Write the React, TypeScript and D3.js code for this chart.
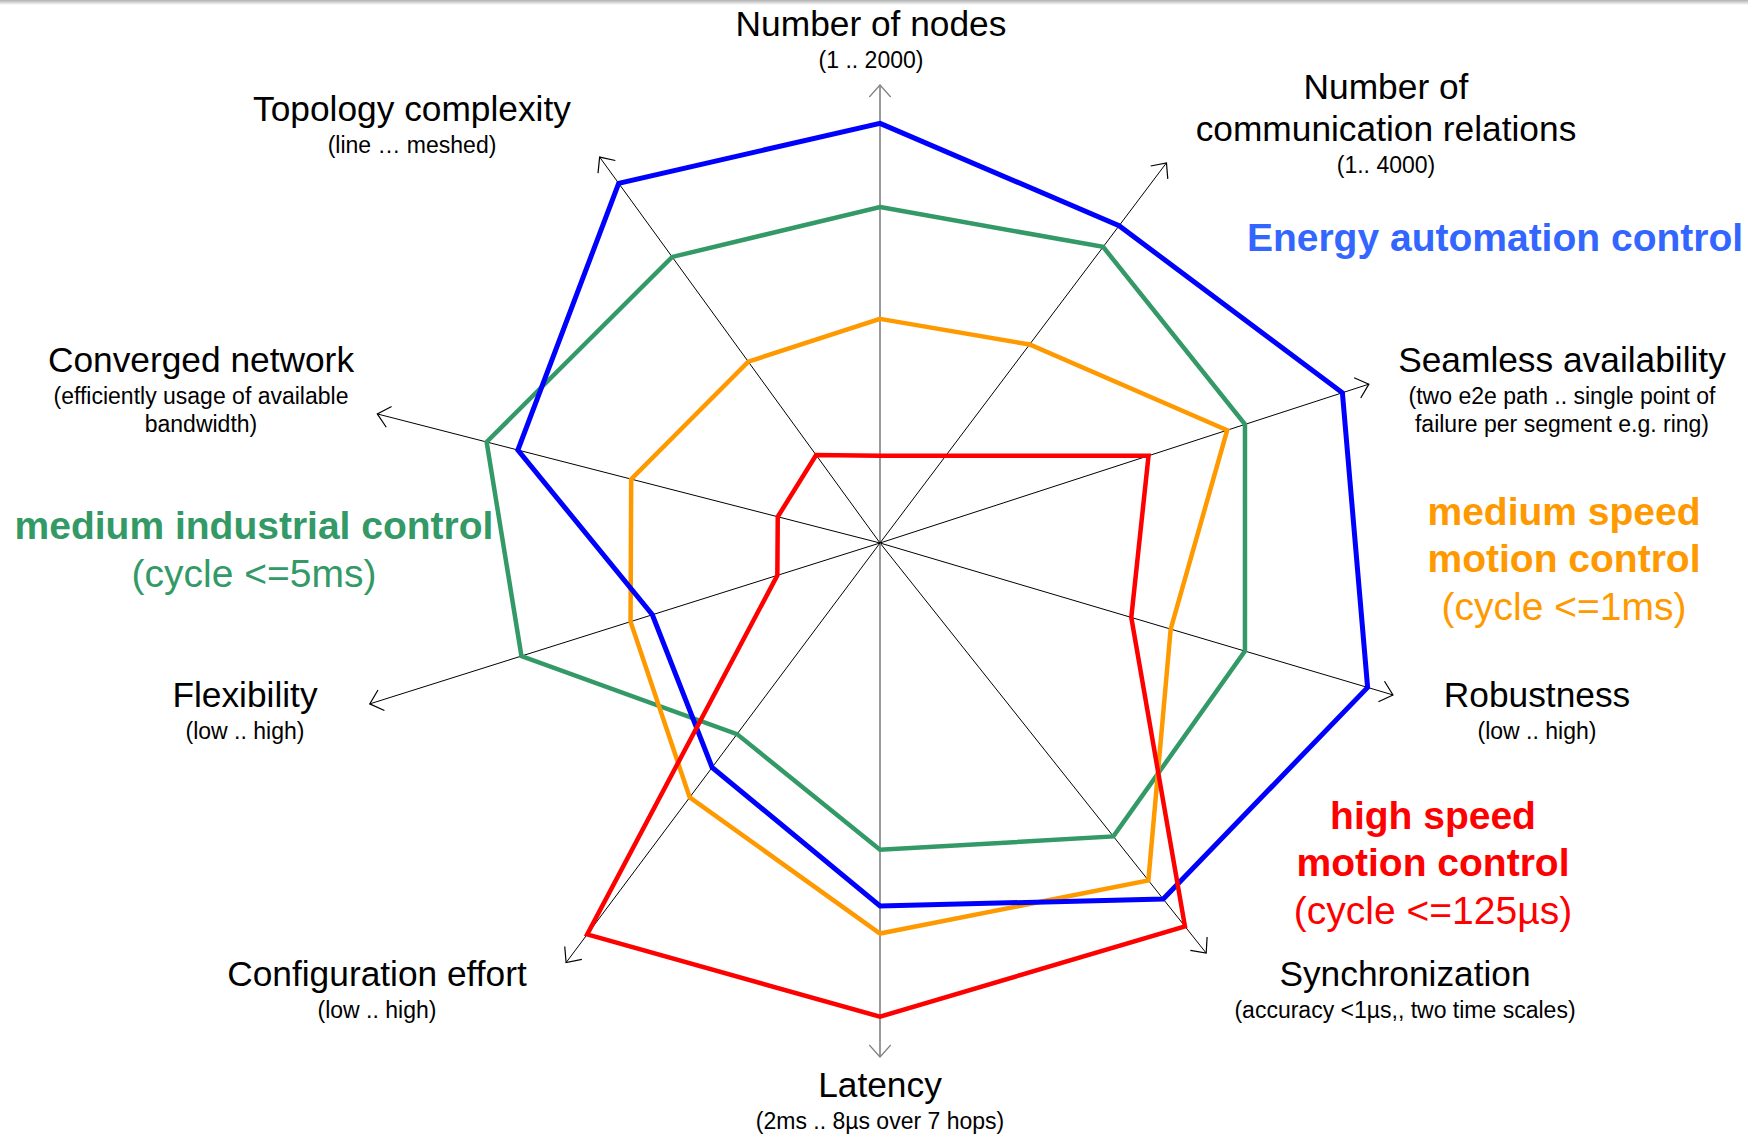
import React, { useEffect, useRef } from 'react';
import { select, scaleLinear, lineRadial, curveLinearClosed } from 'd3';

const WIDTH = 1748;
const HEIGHT = 1138;

// axes, clockwise from the top
const axisTitles = [
  ['Number of nodes'],
  ['Number of', 'communication relations'],
  ['Seamless availability'],
  ['Robustness'],
  ['Synchronization'],
  ['Latency'],
  ['Configuration effort'],
  ['Flexibility'],
  ['Converged network'],
  ['Topology complexity'],
];
const axisRanges = [
  ['(1 .. 2000)'],
  ['(1.. 4000)'],
  ['(two e2e path .. single point of', 'failure per segment e.g. ring)'],
  ['(low .. high)'],
  ['(accuracy <1µs,, two time scales)'],
  ['(2ms .. 8µs over 7 hops)'],
  ['(low .. high)'],
  ['(low .. high)'],
  ['(efficiently usage of available', 'bandwidth)'],
  ['(line … meshed)'],
];

// values 0..100 along each axis, same order as above
const energyAutomation = [80.7, 76.4, 93.5, 97.8, 87.5, 69.8, 53.9, 45.9, 71.9, 85.5];
const mediumIndustrial = [64.6, 71.3, 73.8, 73.2, 72.1, 59.0, 45.9, 72.3, 78.1, 68.0];
const mediumSpeedMotion = [43.1, 47.8, 70.2, 58.3, 82.9, 75.1, 61.1, 50.3, 49.4, 43.1];
const highSpeedMotion = [16.8, 21.0, 54.3, 50.4, 94.2, 91.1, 94.0, 20.7, 20.3, 20.9];

const seriesTitles = [
  ['Energy automation control'],
  ['medium industrial control'],
  ['medium speed', 'motion control'],
  ['high speed', 'motion control'],
];
const seriesCycles = ['', '(cycle <=5ms)', '(cycle <=1ms)', '(cycle <=125µs)'];

// layout of the drawing (not data)
const CX = 880;
const CY = 543;
const AXIS_ANGLE = [0, 37, 72, 106.5, 141.5, 180, 216.8, 252.5, 284.4, 324];
const AXIS_REACH = [458, 476, 514, 535, 524, 514, 524, 535, 519, 477];
const AXIS_LABEL_AT = [
  [871, 36], [1386, 99], [1562, 372], [1537, 707], [1405, 986],
  [880, 1097], [377, 986], [245, 707], [201, 372], [412, 121],
];
const SERIES_LABEL_AT = [[1495, 251], [254, 539], [1564, 525], [1433, 829]];
const LINE_COLORS = ['#0000FF', '#339966', '#FF9900', '#FF0000'];
const TEXT_COLORS = ['#3366FF', '#339966', '#FF9900', '#FF0000'];
const LINE_WIDTHS = [5, 4.5, 4.5, 4.5];
const DRAW_ORDER = [1, 2, 0, 3];
const FONT = '"Liberation Sans", Arial, Helvetica, sans-serif';

const App: React.FC = () => {
  const svgRef = useRef<SVGSVGElement>(null);

  useEffect(() => {
    document.body.style.margin = '0';
    if (!svgRef.current) return;

    const series = [energyAutomation, mediumIndustrial, mediumSpeedMotion, highSpeedMotion];
    const rad = (deg: number) => (deg * Math.PI) / 180;
    const r = scaleLinear().domain([0, 100]).range([0, 520]);

    const svg = select(svgRef.current);
    svg.selectAll('*').remove();

    const defs = svg.append('defs');
    const grad = defs.append('linearGradient')
      .attr('id', 'topShade').attr('x1', 0).attr('y1', 0).attr('x2', 0).attr('y2', 1);
    grad.append('stop').attr('offset', '0%').attr('stop-color', '#b0b0b0');
    grad.append('stop').attr('offset', '100%').attr('stop-color', '#ffffff');

    ['black', 'gray'].forEach(name => {
      defs.append('marker')
        .attr('id', `arrow-${name}`)
        .attr('viewBox', '-18 -14 20 28')
        .attr('refX', 0).attr('refY', 0)
        .attr('markerWidth', 20).attr('markerHeight', 28)
        .attr('markerUnits', 'userSpaceOnUse')
        .attr('orient', 'auto')
        .append('path')
        .attr('d', 'M-12,-10.7 L0,0 L-12,10.7')
        .attr('fill', 'none')
        .attr('stroke', name === 'gray' ? '#808080' : '#000')
        .attr('stroke-width', 1.2);
    });

    svg.append('rect')
      .attr('x', 0).attr('y', 0).attr('width', WIDTH).attr('height', 5)
      .attr('fill', 'url(#topShade)');

    const g = svg.append('g').attr('transform', `translate(${CX},${CY})`);

    // axes with open arrow heads
    const isVertical = (i: number) => AXIS_ANGLE[i] % 180 === 0;
    g.append('g').selectAll('line')
      .data(axisTitles.map((_, i) => i))
      .join('line')
      .attr('x1', 0).attr('y1', 0)
      .attr('x2', i => AXIS_REACH[i] * Math.sin(rad(AXIS_ANGLE[i])))
      .attr('y2', i => -AXIS_REACH[i] * Math.cos(rad(AXIS_ANGLE[i])))
      .attr('stroke', i => isVertical(i) ? '#808080' : '#000')
      .attr('stroke-width', i => isVertical(i) ? 1.6 : 1)
      .attr('marker-end', i => isVertical(i) ? 'url(#arrow-gray)' : 'url(#arrow-black)');

    // the four profiles
    const line = lineRadial<number>()
      .angle((_, i) => rad(AXIS_ANGLE[i]))
      .radius(d => r(d))
      .curve(curveLinearClosed);

    g.append('g').selectAll('path')
      .data(DRAW_ORDER)
      .join('path')
      .attr('d', k => line(series[k]))
      .attr('fill', 'none')
      .attr('stroke', k => LINE_COLORS[k])
      .attr('stroke-width', k => LINE_WIDTHS[k])
      .attr('stroke-linejoin', 'miter');

    // axis labels
    axisTitles.forEach((titles, i) => {
      const [x, y] = AXIS_LABEL_AT[i];
      const t = svg.append('g').attr('font-family', FONT).attr('text-anchor', 'middle').attr('fill', '#000');
      titles.forEach((s, j) => {
        t.append('text').attr('x', x).attr('y', y + j * 42).attr('font-size', 35.3).text(s);
      });
      const y0 = y + (titles.length - 1) * 42 + 32;
      axisRanges[i].forEach((s, j) => {
        t.append('text').attr('x', x).attr('y', y0 + j * 28).attr('font-size', 23).text(s);
      });
    });

    // series labels
    seriesTitles.forEach((titles, k) => {
      const [x, y] = SERIES_LABEL_AT[k];
      const t = svg.append('g').attr('font-family', FONT).attr('text-anchor', 'middle').attr('fill', TEXT_COLORS[k]);
      titles.forEach((s, j) => {
        t.append('text').attr('x', x).attr('y', y + j * 47)
          .attr('font-size', 39).attr('font-weight', 'bold').text(s);
      });
      if (seriesCycles[k]) {
        t.append('text').attr('x', x).attr('y', y + (titles.length - 1) * 47 + 47.5)
          .attr('font-size', 39).text(seriesCycles[k]);
      }
    });
  }, []);

  return (
    <svg ref={svgRef} width={WIDTH} height={HEIGHT} style={{ display: 'block', background: '#fff' }} />
  );
};

export default App;
